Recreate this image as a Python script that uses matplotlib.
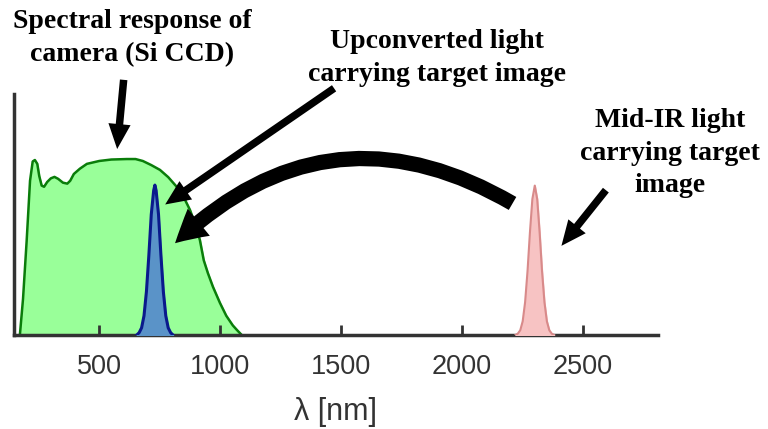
import numpy as np
import matplotlib
matplotlib.use("Agg")
from matplotlib import pyplot as plt

# spectral response of the Si CCD camera
ccd_nm = [172, 185, 200, 214, 225, 234, 244, 252, 262, 272, 285, 300, 315, 330, 350,
          368, 380, 395, 420, 449, 500, 550, 614, 650, 680, 715, 751, 785, 821, 850,
          875, 900, 916, 932, 949, 970, 999, 1025, 1052, 1070, 1089]
ccd_resp = [0.0, 0.15, 0.39, 0.64, 0.72, 0.726, 0.71, 0.66, 0.62, 0.615, 0.635, 0.65, 0.656,
            0.648, 0.632, 0.628, 0.64, 0.668, 0.69, 0.71, 0.722, 0.728, 0.73, 0.73, 0.722,
            0.705, 0.685, 0.655, 0.614, 0.57, 0.519, 0.45, 0.394, 0.31, 0.257, 0.2, 0.133,
            0.08, 0.04, 0.02, 0.0]

# upconverted light peak
up_nm = [655, 665, 675, 685, 695, 705, 715, 725, 730, 735, 745, 755, 765, 775, 785, 795, 805]
up_val = [0.0, 0.01, 0.03, 0.08, 0.18, 0.33, 0.50, 0.60, 0.622, 0.60, 0.50, 0.33, 0.18,
          0.08, 0.03, 0.01, 0.0]

# mid-IR light peak
ir_nm = [2220, 2230, 2240, 2250, 2260, 2270, 2280, 2290, 2300, 2310, 2320, 2330, 2340, 2350,
         2360, 2370, 2380]
ir_val = [0.0, 0.006, 0.02, 0.057, 0.136, 0.265, 0.426, 0.564, 0.62, 0.564, 0.426, 0.265,
          0.136, 0.057, 0.02, 0.006, 0.0]

ticks = [500, 1000, 1500, 2000, 2500]

fig = plt.figure(figsize=(7.68, 4.29), dpi=100)
ax = fig.add_axes([0.018, 0.219, 0.839, 0.562])

ax.fill_between(ccd_nm, ccd_resp, color="#99ff99", zorder=1)
ax.plot(ccd_nm, ccd_resp, color="#0a7d0a", lw=1.8, zorder=2)
ax.fill_between(up_nm, up_val, color="#5a93c8", zorder=3)
ax.plot(up_nm, up_val, color="#0a1a8c", lw=2.2, zorder=4)
ax.fill_between(ir_nm, ir_val, color="#f7c3c3", zorder=3)
ax.plot(ir_nm, ir_val, color="#d88a8a", lw=1.5, zorder=4)

ax.set_xlim(147, 2810)
ax.set_ylim(0, 1)
for s in ["top", "right"]:
    ax.spines[s].set_visible(False)
for s in ["left", "bottom"]:
    ax.spines[s].set_color("#333333")
    ax.spines[s].set_linewidth(2.5)
ax.set_yticks([])
ax.set_xticks(ticks)
ax.tick_params(axis="x", direction="in", length=7, width=2, color="#333333",
               labelsize=19.5, labelcolor="#333333", pad=14)
for lab in ax.get_xticklabels():
    lab.set_family("Liberation Sans")
ax.set_xlabel("λ [nm]", fontsize=22, color="#333333", family="Liberation Sans", labelpad=12)

# text labels
tfont = dict(family="Liberation Serif", weight="bold", fontsize=20, ha="center",
             va="center", linespacing=1.38, color="black")
fig.text(132 / 768, 1 - 38 / 429, "Spectral response of\ncamera (Si CCD)", **tfont)
fig.text(437 / 768, 1 - 58 / 429, "Upconverted light\ncarrying target image", **tfont)
fig.text(670 / 768, 1 - 153 / 429, "Mid-IR light\ncarrying target\nimage", **tfont)

# arrows
thin = "simple,head_width=0.8,head_length=0.9,tail_width=0.27"
ax.annotate("", xy=(573, 0.76), xytext=(602, 1.07), annotation_clip=False,
            arrowprops=dict(arrowstyle=thin, color="black", mutation_scale=20, lw=0))
ax.annotate("", xy=(763, 0.535), xytext=(1480, 1.03), annotation_clip=False,
            arrowprops=dict(arrowstyle=thin, color="black", mutation_scale=20, lw=0))
ax.annotate("", xy=(2403, 0.361), xytext=(2601, 0.61), annotation_clip=False,
            arrowprops=dict(arrowstyle=thin, color="black", mutation_scale=20, lw=0))
ax.annotate("", xy=(805, 0.373), xytext=(2218, 0.54), annotation_clip=False,
            arrowprops=dict(arrowstyle="simple,head_width=1.05,head_length=0.95,tail_width=0.45",
                            color="black", mutation_scale=24, lw=0,
                            connectionstyle="arc3,rad=0.38"))

fig.savefig("out.png", dpi=100)
